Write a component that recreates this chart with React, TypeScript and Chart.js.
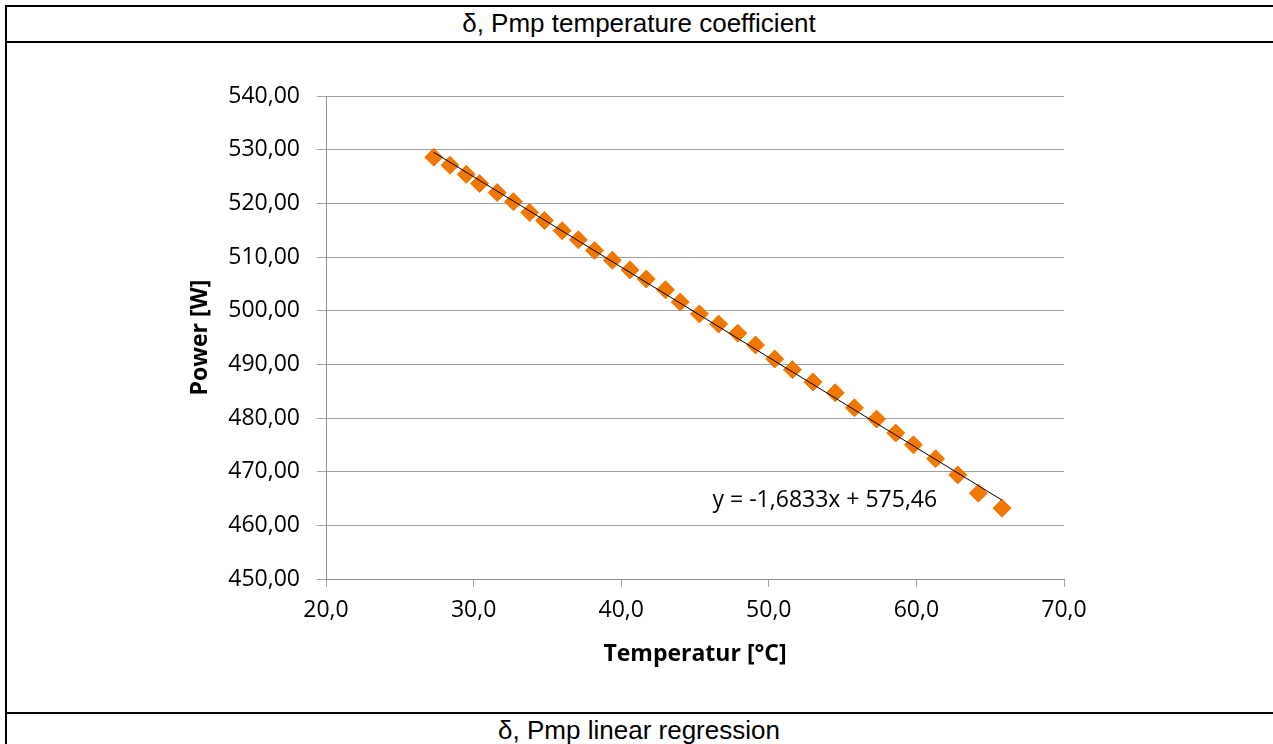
import { useEffect, useRef } from "react";
import { Chart, registerables } from "chart.js";

Chart.register(...registerables);

const temperature = [
  27.3, 28.4, 29.5, 30.4, 31.6, 32.7, 33.8, 34.8, 36.0, 37.1, 38.2, 39.4, 40.6, 41.7, 43.0, 44.0,
  45.3, 46.6, 47.9, 49.1, 50.4, 51.6, 53.0, 54.5, 55.8, 57.3, 58.6, 59.8, 61.3, 62.8, 64.2, 65.8,
];
const power = [
  528.6, 527.1, 525.4, 523.7, 522.0, 520.3, 518.3, 516.8, 514.9, 513.2, 511.2, 509.4, 507.6, 505.9, 503.9, 501.6,
  499.4, 497.5, 495.8, 493.6, 491.0, 489.0, 486.7, 484.7, 481.9, 479.8, 477.2, 475.0, 472.4, 469.4, 466.0, 463.2,
];
const trendSlope = -1.6833;
const trendIntercept = 575.46;
const equationLabel = "y = -1,6833x + 575,46";
const equationAt = [53.8, 464.7];
const xRange = [20, 70, 10];
const yRange = [450, 540, 10];
const headerText = "δ, Pmp temperature coefficient";
const footerText = "δ, Pmp linear regression";
const xTitle = "Temperatur [°C]";
const yTitle = "Power [W]";

export default function App() {
  const ref = useRef<HTMLCanvasElement>(null);

  useEffect(() => {
    document.body.style.margin = "0";
    const canvas = ref.current;
    if (!canvas) return;
    const tMin = Math.min(...temperature);
    const tMax = Math.max(...temperature);
    const eqPlugin = {
      id: "eqLabel",
      afterDatasetsDraw(chart: any) {
        const { ctx, scales } = chart;
        ctx.save();
        ctx.font = '23px "Open Sans"';
        ctx.fillStyle = "#000";
        ctx.textAlign = "center";
        ctx.textBaseline = "middle";
        ctx.fillText(
          equationLabel,
          scales.x.getPixelForValue(equationAt[0]),
          scales.y.getPixelForValue(equationAt[1])
        );
        ctx.restore();
      },
    };
    const chart = new Chart(canvas, {
      type: "scatter",
      data: {
        datasets: [
          {
            type: "line",
            data: [tMin, tMax].map((t) => ({ x: t, y: trendSlope * t + trendIntercept })),
            borderColor: "#000",
            borderWidth: 1,
            pointRadius: 0,
            order: 0,
          } as any,
          {
            data: temperature.map((t, i) => ({ x: t, y: power[i] })),
            pointStyle: "rectRot",
            pointRadius: 9,
            backgroundColor: "#F07800",
            borderColor: "#F07800",
            borderWidth: 1,
            order: 1,
          },
        ],
      },
      options: {
        responsive: false,
        animation: false,
        layout: { padding: { left: 180, top: 53, right: 209, bottom: 44 } },
        plugins: { legend: { display: false }, tooltip: { enabled: false } },
        scales: {
          x: {
            type: "linear",
            min: xRange[0],
            max: xRange[1],
            ticks: {
              stepSize: xRange[2],
              callback: (v: any) => Number(v).toFixed(1).replace(".", ","),
              font: { family: "Open Sans", size: 23 },
              color: "#000",
              padding: 10,
              maxRotation: 0,
            },
            grid: { drawOnChartArea: false, tickLength: 8, color: "#a0a0a0" },
            border: { color: "#8c8c8c" },
            title: {
              display: true,
              text: xTitle,
              font: { family: "Open Sans", size: 23, weight: "bold" },
              color: "#000",
              padding: 0,
            },
            afterFit: (s: any) => {
              s.height = 89;
            },
          },
          y: {
            type: "linear",
            min: yRange[0],
            max: yRange[1],
            ticks: {
              stepSize: yRange[2],
              callback: (v: any) => Number(v).toFixed(2).replace(".", ","),
              font: { family: "Open Sans", size: 23 },
              color: "#000",
              padding: 17,
            },
            grid: { tickLength: 9, color: "#a0a0a0" },
            border: { color: "#8c8c8c" },
            title: {
              display: true,
              text: yTitle,
              font: { family: "Open Sans", size: 23, weight: "bold" },
              color: "#000",
              padding: 0,
            },
            afterFit: (s: any) => {
              s.width = 139;
            },
          },
        },
      },
      plugins: [eqPlugin],
    });
    return () => chart.destroy();
  }, []);

  const line = (style: any) => <div style={{ position: "absolute", background: "#000", ...style }} />;
  const caption: any = {
    position: "absolute",
    left: 5,
    width: 1268,
    textAlign: "center",
    fontFamily: '"Liberation Sans", Arial, sans-serif',
    fontSize: 26,
    color: "#000",
    lineHeight: "30px",
  };

  return (
    <div style={{ position: "fixed", left: 0, top: 0, width: 1273, height: 744, background: "#fff", overflow: "hidden" }}>
      <canvas ref={ref} width={1266} height={669} style={{ position: "absolute", left: 7, top: 43 }} />
      {line({ left: 5, top: 5, width: 1268, height: 2 })}
      {line({ left: 5, top: 41, width: 1268, height: 2 })}
      {line({ left: 5, top: 712, width: 1268, height: 2 })}
      {line({ left: 5, top: 5, width: 2, height: 739 })}
      <div style={{ ...caption, top: 8 }}>{headerText}</div>
      <div style={{ ...caption, top: 715 }}>{footerText}</div>
    </div>
  );
}
